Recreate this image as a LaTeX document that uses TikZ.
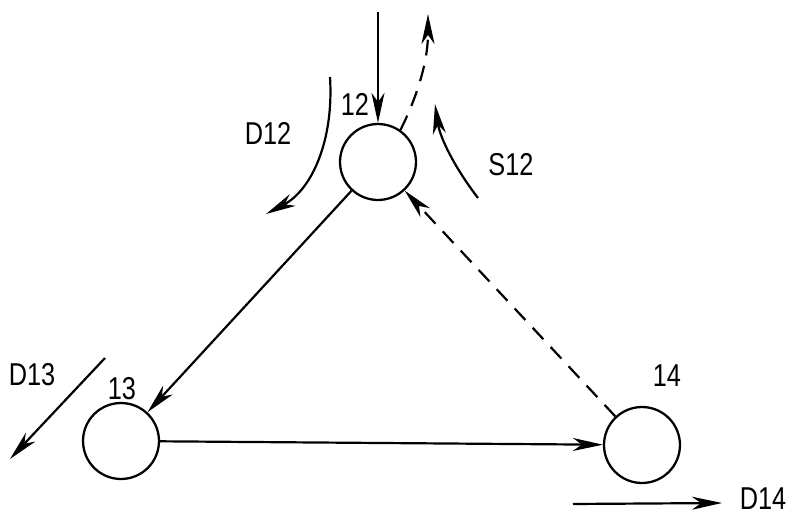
\documentclass[tikz,border=0pt]{standalone}
\usepackage{fontspec}
\setmainfont{Liberation Sans}[FakeStretch=0.8]
\usepackage{tikz}
\usetikzlibrary{arrows.meta}

\begin{document}
\begin{tikzpicture}[
  x=0.02cm, y=-0.02cm,
  stn/.style={circle, draw=black, line width=1.3pt, minimum size=1.52cm, inner sep=0pt},
  lbl/.style={font=\fontsize{18}{20}\selectfont, inner sep=0pt},
  arr/.style={-{Stealth[length=6mm, width=2.6mm, inset=1.8mm]}, line width=1.25pt, draw=black},
  dsh/.style={arr, dash pattern=on 9pt off 6pt}
]
\useasboundingbox (0,0) rectangle (796,514);

% stations
\node[stn] (s12) at (378,162) {};
\node[stn] (s13) at (121,441) {};
\node[stn] (s14) at (642,445) {};

\node[lbl] (l12) at (355,104) {12};
\node[lbl] (l13) at (122,389) {13};
\node[lbl] (l14) at (667,376) {14};

% free ends
\coordinate (in12) at (378,12);
\coordinate (out12) at (428,14);
\coordinate (d12a) at (330,77);
\coordinate (d12b) at (266,214);
\coordinate (s12a) at (478,198);
\coordinate (s12b) at (435,104);
\coordinate (d13a) at (105,358);
\coordinate (d13b) at (10,459);
\coordinate (d14a) at (573,504);
\coordinate (d14b) at (722,503);

\node[lbl] (td12) at (268,133) {D12};
\node[lbl] (ts12) at (511,165) {S12};
\node[lbl] (td13) at (32,375) {D13};
\node[lbl] (td14) at (763,499) {D14};

% links
\draw[arr] (in12) -- (s12.north);
\draw[dsh] (s12.55) .. controls (418,95) and (428,60) .. (out12);
\draw[arr] (d12a) .. controls (334,140) and (312,190) .. (d12b);
\draw[arr] (s12a) .. controls (455,168) and (440,138) .. (s12b);
\draw[arr] (s12) -- (s13);
\draw[arr] (s13) -- (s14);
\draw[dsh] (s14) -- (s12);
\draw[arr] (d13a) -- (d13b);
\draw[arr] (d14a) -- (d14b);
\end{tikzpicture}
\end{document}
